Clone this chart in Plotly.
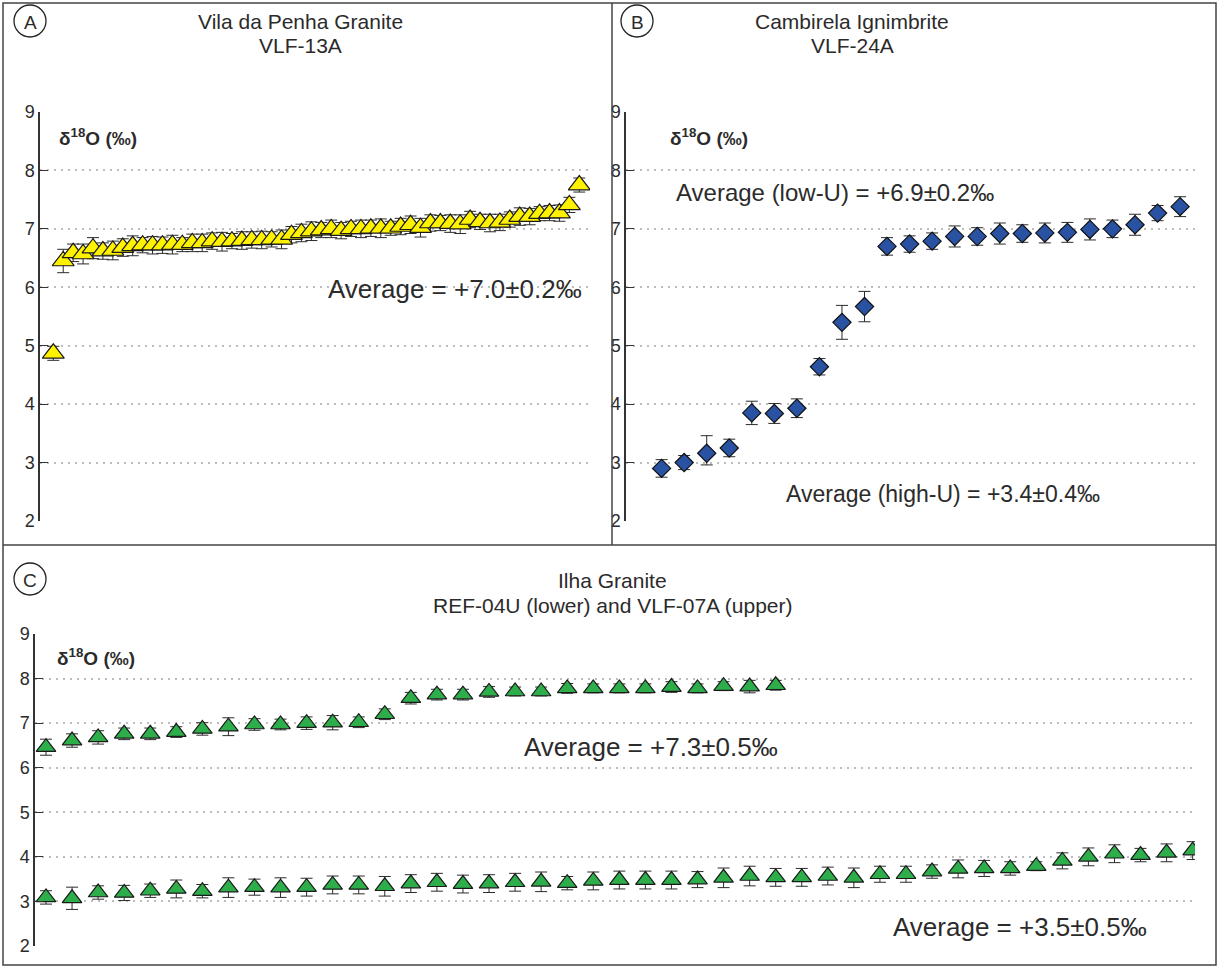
import plotly.graph_objects as go

W, H = 1219, 967

# ---------------- data ----------------
# Panel A: Vila da Penha Granite, VLF-13A
a_vals = [4.87, 6.45, 6.59, 6.57, 6.67, 6.62, 6.63, 6.68, 6.71, 6.72,
          6.72, 6.72, 6.73, 6.73, 6.76, 6.76, 6.79, 6.78, 6.79, 6.80,
          6.81, 6.81, 6.82, 6.82, 6.90, 6.93, 6.96, 6.98, 7.00, 6.97,
          7.00, 7.00, 7.01, 7.01, 7.01, 7.04, 7.07, 7.02, 7.10, 7.10,
          7.09, 7.08, 7.16, 7.12, 7.10, 7.11, 7.16, 7.21, 7.21, 7.26,
          7.27, 7.27, 7.41, 7.75]
a_err = [0.12, 0.20, 0.15, 0.17, 0.18, 0.14, 0.16, 0.15, 0.17, 0.13,
         0.15, 0.14, 0.16, 0.12, 0.15, 0.15, 0.14, 0.16, 0.13, 0.15,
         0.14, 0.15, 0.13, 0.16, 0.14, 0.15, 0.16, 0.13, 0.15, 0.14,
         0.13, 0.15, 0.14, 0.16, 0.12, 0.14, 0.15, 0.16, 0.14, 0.13,
         0.15, 0.16, 0.14, 0.13, 0.15, 0.14, 0.13, 0.15, 0.14, 0.12,
         0.13, 0.14, 0.13, 0.12]

# Panel B: Cambirela Ignimbrite, VLF-24A
b_vals = [2.90, 3.00, 3.16, 3.25, 3.85, 3.84, 3.93, 4.64, 5.40, 5.67,
          6.70, 6.74, 6.79, 6.87, 6.87, 6.92, 6.92, 6.93, 6.94, 6.99,
          7.00, 7.07, 7.27, 7.38]
b_err_plus = [0.15, 0.12, 0.30, 0.15, 0.20, 0.17, 0.16, 0.14, 0.29, 0.26,
              0.15, 0.14, 0.14, 0.18, 0.15, 0.18, 0.15, 0.17, 0.17, 0.18,
              0.15, 0.18, 0.13, 0.17]
b_err_minus = [0.15, 0.12, 0.20, 0.15, 0.20, 0.17, 0.16, 0.14, 0.29, 0.26,
               0.15, 0.14, 0.14, 0.18, 0.15, 0.18, 0.15, 0.17, 0.17, 0.18,
               0.15, 0.18, 0.13, 0.17]

# Panel C: Ilha Granite, VLF-07A (upper) and REF-04U (lower)
c_up_vals = [6.46, 6.61, 6.68, 6.76, 6.76, 6.80, 6.87, 6.92, 6.97, 6.97,
             7.00, 7.01, 7.02, 7.20, 7.56, 7.64, 7.64, 7.70, 7.71, 7.71,
             7.78, 7.78, 7.78, 7.78, 7.81, 7.78, 7.83, 7.82, 7.85]
c_up_err = [0.18, 0.15, 0.15, 0.13, 0.13, 0.12, 0.14, 0.20, 0.13, 0.12,
            0.14, 0.16, 0.12, 0.12, 0.13, 0.12, 0.12, 0.12, 0.10, 0.10,
            0.11, 0.10, 0.10, 0.10, 0.12, 0.10, 0.10, 0.14, 0.11]
c_lo_vals = [3.09, 3.07, 3.20, 3.19, 3.24, 3.28, 3.23, 3.31, 3.32, 3.31,
             3.32, 3.37, 3.37, 3.34, 3.40, 3.43, 3.39, 3.40, 3.43, 3.44,
             3.41, 3.46, 3.48, 3.48, 3.48, 3.49, 3.53, 3.57, 3.54, 3.54,
             3.57, 3.53, 3.61, 3.61, 3.67, 3.73, 3.74, 3.74, 3.79, 3.91,
             4.00, 4.07, 4.04, 4.09, 4.14]
c_lo_err = [0.15, 0.25, 0.15, 0.17, 0.15, 0.20, 0.15, 0.22, 0.18, 0.22,
            0.20, 0.20, 0.20, 0.22, 0.20, 0.20, 0.20, 0.20, 0.20, 0.22,
            0.15, 0.20, 0.20, 0.20, 0.20, 0.18, 0.22, 0.22, 0.20, 0.20,
            0.20, 0.22, 0.18, 0.18, 0.15, 0.20, 0.18, 0.15, 0.10, 0.18,
            0.20, 0.20, 0.15, 0.20, 0.20]

y_ticks = [2, 3, 4, 5, 6, 7, 8, 9]

titles_a = ["Vila da Penha Granite", "VLF-13A"]
titles_b = ["Cambirela Ignimbrite", "VLF-24A"]
titles_c = ["Ilha Granite", "REF-04U (lower) and VLF-07A (upper)"]
avg_a = "Average = +7.0±0.2‰"
avg_b_low = "Average (low-U) = +6.9±0.2‰"
avg_b_high = "Average (high-U) = +3.4±0.4‰"
avg_c_up = "Average = +7.3±0.5‰"
avg_c_lo = "Average = +3.5±0.5‰"
ylabel = "<b>δ<sup>18</sup>O (‰)</b>"

# ---------------- styling helpers ----------------
FONT = "Liberation Sans, Arial, sans-serif"
TXT = "#2b2b2b"
ERR = dict(color="#2b2b2b", thickness=1, width=6)


def px(x):
    return x / W


def py(y):
    return 1 - y / H


fig = go.Figure()

fig.add_trace(go.Scatter(
    x=list(range(1, len(a_vals) + 1)), y=a_vals, mode="markers",
    marker=dict(symbol="triangle-up", size=19, color="#FFF200",
                line=dict(color="#1a1a1a", width=1.2)),
    error_y=dict(type="data", array=a_err, **ERR),
    xaxis="x", yaxis="y"))

fig.add_trace(go.Scatter(
    x=list(range(1, len(b_vals) + 1)), y=b_vals, mode="markers",
    marker=dict(symbol="diamond", size=14, color="#2A52A3",
                line=dict(color="#111111", width=1.2)),
    error_y=dict(type="data", symmetric=False, array=b_err_plus,
                 arrayminus=b_err_minus, **ERR),
    xaxis="x2", yaxis="y2"))

for vals, errs in ((c_up_vals, c_up_err), (c_lo_vals, c_lo_err)):
    fig.add_trace(go.Scatter(
        x=list(range(1, len(vals) + 1)), y=vals, mode="markers",
        marker=dict(symbol="triangle-up", size=17, color="#2EAE4A",
                    line=dict(color="#1a1a1a", width=1.2)),
        error_y=dict(type="data", array=errs, **ERR),
        xaxis="x3", yaxis="y3"))

yax = dict(range=[2, 9], tickvals=y_ticks, ticks="inside", ticklen=8,
           tickwidth=1.3, tickcolor="#333333", automargin=False,
           showline=True, linecolor="#333333", linewidth=1.5,
           showgrid=True, gridcolor="#bdbdbd", griddash="2px,5px", gridwidth=1.5,
           zeroline=False, tickfont=dict(size=18, color=TXT, family=FONT))
xax = dict(visible=False, showgrid=False, zeroline=False, automargin=False)

dom_ab = [py(521), py(112)]
dom_c = [py(946), py(634)]

fig.update_layout(
    width=W, height=H,
    margin=dict(l=0, r=0, t=0, b=0, pad=0, autoexpand=False),
    paper_bgcolor="white", plot_bgcolor="white", showlegend=False,
    font=dict(family=FONT, color=TXT),
    xaxis=dict(domain=[px(40), px(590)], range=[-0.34, 55.08], anchor="y", **xax),
    yaxis=dict(domain=dom_ab, anchor="x", **yax),
    xaxis2=dict(domain=[px(626), px(1195)], range=[-0.58, 24.66], anchor="y2", **xax),
    yaxis2=dict(domain=dom_ab, anchor="x2", **yax),
    xaxis3=dict(domain=[px(35), px(1195)], range=[0.578, 45.09], anchor="y3", **xax),
    yaxis3=dict(domain=dom_c, anchor="x3", **yax),
)

# frame and panel dividers
line = dict(color="#444444", width=1.5)
shapes = [
    dict(type="rect", xref="paper", yref="paper", x0=px(3), x1=px(1216),
         y0=py(965), y1=py(3), line=line),
    dict(type="line", xref="paper", yref="paper", x0=px(612), x1=px(612),
         y0=py(545), y1=py(3), line=line),
    dict(type="line", xref="paper", yref="paper", x0=px(3), x1=px(1216),
         y0=py(545), y1=py(545), line=line),
]
for cx, cy in ((30, 21), (637, 21), (30, 579)):
    shapes.append(dict(type="circle", xref="paper", yref="paper",
                       x0=px(cx - 16), x1=px(cx + 16), y0=py(cy + 16), y1=py(cy - 16),
                       line=dict(color="#222222", width=1.3)))
fig.update_layout(shapes=shapes)

ann = []


def add_text(text, x, y, size, xanchor="center"):
    ann.append(dict(text=text, x=px(x), y=py(y), xref="paper", yref="paper",
                    xanchor=xanchor, yanchor="middle", showarrow=False,
                    font=dict(size=size, family=FONT, color=TXT)))


for letter, cx, cy in (("A", 30, 21), ("B", 637, 21), ("C", 30, 579)):
    add_text(letter, cx, cy + 1, 19)

add_text(titles_a[0], 300, 21, 21)
add_text(titles_a[1], 300, 46, 21)
add_text(titles_b[0], 852, 21, 21)
add_text(titles_b[1], 852, 46, 21)
add_text(titles_c[0], 612, 580, 21)
add_text(titles_c[1], 612, 605, 21)

add_text(ylabel, 57, 137, 19, "left")
add_text(ylabel, 668, 137, 19, "left")
add_text(ylabel, 55, 657, 19, "left")

add_text(avg_a, 455, 289, 26)
add_text(avg_b_low, 835, 192, 24)
add_text(avg_b_high, 943, 494, 23)
add_text(avg_c_up, 651, 747, 26)
add_text(avg_c_lo, 1020, 927, 26)

fig.update_layout(annotations=ann)

fig.write_html(
    "out.html",
    config={"displayModeBar": False},
    post_script="document.body.style.margin='0';"
                "document.body.style.overflow='hidden';")
